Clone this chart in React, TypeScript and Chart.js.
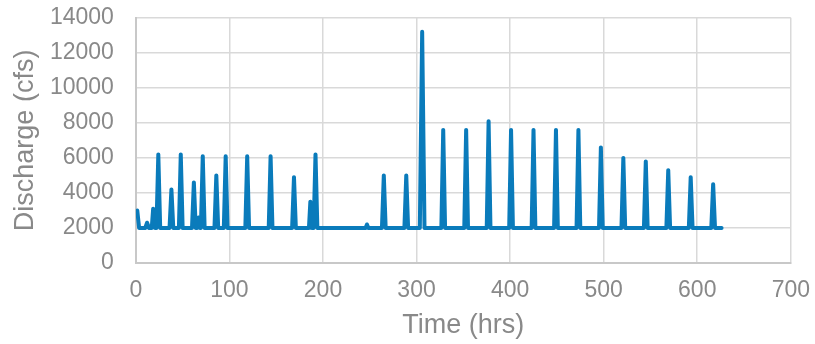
import { useEffect, useRef } from "react";
import { Chart, registerables } from "chart.js";

Chart.register(...registerables);

const timeHrs = [
  1.5, 3.5, 10, 12, 14, 17, 18.5, 20.5, 22, 24, 26,
  36, 38, 40, 46, 48, 50, 60, 62, 64, 65.5, 67, 68.5, 69.5, 71.5, 73.5,
  84, 86, 88, 94, 96, 98, 117, 119, 121, 142, 144, 146, 167, 169, 171,
  185, 186.5, 188, 190, 192, 194, 245.5, 247, 248.5, 263, 265, 267,
  287, 289, 291, 303.5, 306, 308.5, 326.5, 328.5, 330.5, 351, 353, 355,
  375, 377, 379, 399, 401, 403, 423, 425, 427, 447, 449, 451, 471, 473, 475,
  495, 497, 499, 519, 521, 523, 543, 545, 547, 567, 569, 571, 591, 593, 595,
  615, 617, 619, 626,
];

const dischargeCfs = [
  3000, 2000, 2000, 2300, 2000, 2000, 3100, 2000, 2000, 6200, 2000,
  2000, 4200, 2000, 2000, 6200, 2000, 2000, 4600, 2000, 2000, 2600, 2000, 2000, 6100, 2000,
  2000, 5000, 2000, 2000, 6100, 2000, 2000, 6100, 2000, 2000, 6100, 2000, 2000, 4900, 2000,
  2000, 3500, 2000, 2000, 6200, 2000, 2000, 2200, 2000, 2000, 5000, 2000,
  2000, 5000, 2000, 2000, 13200, 2000, 2000, 7600, 2000, 2000, 7600, 2000,
  2000, 8100, 2000, 2000, 7600, 2000, 2000, 7600, 2000, 2000, 7600, 2000, 2000, 7600, 2000,
  2000, 6600, 2000, 2000, 6000, 2000, 2000, 5800, 2000, 2000, 5300, 2000, 2000, 4900, 2000,
  2000, 4500, 2000, 2000,
];

const xAxisTitle = "Time (hrs)";
const yAxisTitle = "Discharge (cfs)";
const xRange = [0, 700];
const yRange = [0, 14000];
const xStep = 100;
const yStep = 2000;

const textColor = "#898989";
const fontFamily = "'Liberation Sans', Arial, sans-serif";

export default function App() {
  const ref = useRef<HTMLCanvasElement>(null);

  useEffect(() => {
    document.body.style.margin = "0";
    const chart = new Chart(ref.current!, {
      type: "line",
      data: {
        datasets: [
          {
            data: timeHrs.map((t, i) => ({ x: t, y: dischargeCfs[i] })),
            borderColor: "#0a7bbb",
            borderWidth: 4,
            pointRadius: 0,
            tension: 0,
            fill: false,
            borderJoinStyle: "round",
            borderCapStyle: "round",
          },
        ],
      },
      options: {
        animation: false,
        responsive: false,
        maintainAspectRatio: false,
        layout: { padding: { left: 9, right: 4, top: 4, bottom: 2 } },
        plugins: { legend: { display: false }, tooltip: { enabled: false } },
        scales: {
          x: {
            type: "linear",
            min: xRange[0],
            max: xRange[1],
            ticks: {
              stepSize: xStep,
              autoSkip: false,
              maxRotation: 0,
              color: textColor,
              font: { family: fontFamily, size: 23 },
              padding: 5,
              callback: (v) => String(v),
            },
            grid: {
              color: "#d9d9d9",
              lineWidth: 1.5,
              drawTicks: true,
              tickLength: 9,
              tickColor: "rgba(0,0,0,0)",
            },
            border: { color: "#c8c8c8", width: 2 },
            title: {
              display: true,
              text: xAxisTitle,
              color: textColor,
              font: { family: fontFamily, size: 27 },
              padding: { top: 0, bottom: 0 },
            },
          },
          y: {
            type: "linear",
            min: yRange[0],
            max: yRange[1],
            ticks: {
              stepSize: yStep,
              autoSkip: false,
              color: textColor,
              font: { family: fontFamily, size: 23 },
              padding: 4,
              callback: (v) => String(v),
            },
            grid: {
              color: "#d9d9d9",
              lineWidth: 1.5,
              drawTicks: true,
              tickLength: 18,
              tickColor: "rgba(0,0,0,0)",
            },
            border: { color: "#c8c8c8", width: 2 },
            title: {
              display: true,
              text: yAxisTitle,
              color: textColor,
              font: { family: fontFamily, size: 27 },
              padding: { top: 0, bottom: 4.5 },
            },
          },
        },
      },
    });
    return () => chart.destroy();
  }, []);

  return (
    <div style={{ width: 815, height: 344 }}>
      <canvas ref={ref} width={815} height={344} />
    </div>
  );
}
